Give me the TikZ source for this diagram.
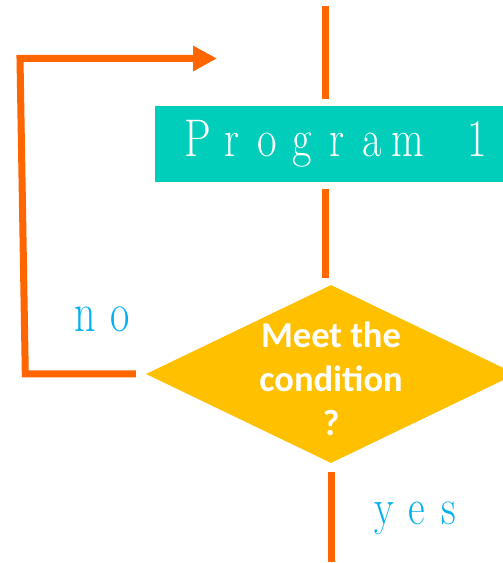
\documentclass[tikz,border=0pt]{standalone}
\usepackage{fontspec}
\usepackage{graphicx}
\newfontfamily\condfont{Carlito}
\usetikzlibrary{shapes.geometric,arrows.meta}
\definecolor{flow}{HTML}{FF6600}
\definecolor{progteal}{HTML}{00CEBA}
\definecolor{gold}{HTML}{FFC000}
\definecolor{skyblue}{HTML}{00B0F0}
\makeatletter
\newcommand\tracked[3][1]{\@tfor\tr@c:=#3\do{\makebox[#2]{\scalebox{#1}[1]{\tr@c}}}}
\makeatother
\begin{document}
\begin{tikzpicture}[x=1pt,y=1pt,line join=miter]
	\tikzset{flowline/.style={draw=flow,line width=7pt},
		procbox/.style={rectangle,fill=progteal,text=white,minimum width=365pt,minimum height=76pt,inner sep=0pt,font=\fontsize{53}{53}\selectfont},
		decide/.style={diamond,fill=gold,minimum width=370pt,minimum height=178pt,inner sep=0pt,text=white,font=\condfont\bfseries\fontsize{36.5}{44}\selectfont},
		answer/.style={text=skyblue,inner sep=0pt,anchor=base west}}
	\clip (0,0) rectangle (503,563);
	\node[procbox] (prog) at (337.5,419) {\tracked[0.8]{35pt}{Program~1}};
	\node[decide] (cond) at (331,189) {\smash{\makebox[0pt]{\raisebox{-14.5pt}{\begin{tabular}{@{}c@{}}Meet the\\condition\\?\end{tabular}}}}};
	\node[answer] (no) at (67.5,231) {\fontsize{56}{56}\selectfont\tracked[0.75]{35pt}{no}};
	\node[answer] (yes) at (368.5,38) {\fontsize{51}{51}\selectfont\tracked[0.8]{32pt}{yes}};
	\coordinate (entry) at (325,557);
	\coordinate (exit) at (331,1);
	\coordinate (back) at (217,504.5);
	\draw[flowline,shorten >=7pt] (entry) -- (prog.north -| entry);
	\draw[flowline,shorten <=7pt,shorten >=7pt] (prog.south -| entry) -- (cond.north -| entry);
	\draw[flowline,shorten <=9pt] (cond.south) -- (exit);
	\draw[flowline,shorten <=10pt,-{Triangle[length=24pt,width=24pt]}] (cond.west) -- ++(-120.5,0) -- (20,504.5) -- (back);
\end{tikzpicture}
\end{document}
